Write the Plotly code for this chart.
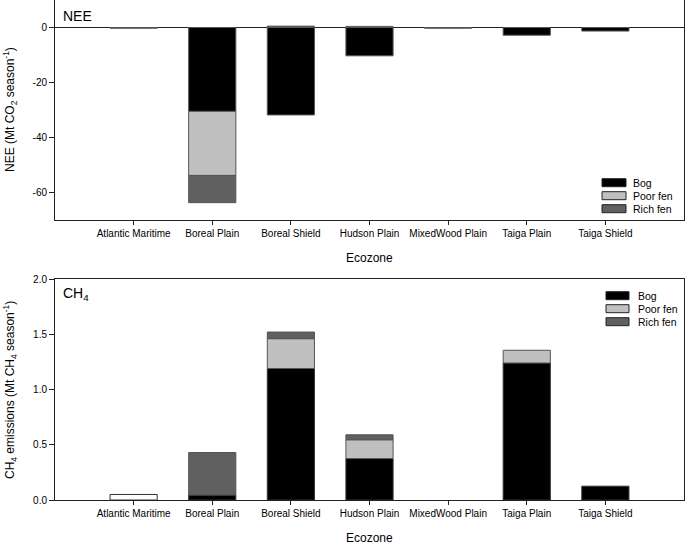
import plotly.graph_objects as go

ecozones = ["Atlantic Maritime", "Boreal Plain", "Boreal Shield", "Hudson Plain",
            "MixedWood Plain", "Taiga Plain", "Taiga Shield"]

# NEE (Mt CO2 season-1); None = no bar
nee_bog = [-0.25, -30.5, -31.8, -10.3, -0.25, -2.8, -1.3]
nee_poor = [None, -23.3, None, None, None, None, None]
nee_rich = [None, -9.9, 0.5, 0.4, None, None, None]

# CH4 (Mt CH4 season-1); None = no bar
ch4_bog = [0.05, 0.045, 1.19, 0.375, None, 1.24, 0.125]
ch4_poor = [None, None, 0.27, 0.17, None, 0.115, None]
ch4_rich = [None, 0.385, 0.06, 0.045, None, None, None]

nee_ticks = [0, -20, -40, -60]
nee_ticktext = ["0", "-20", "-40", "-60"]
ch4_ticks = [0, 0.5, 1.0, 1.5, 2.0]
ch4_ticktext = ["0.0", "0.5", "1.0", "1.5", "2.0"]

series_names = ["Bog", "Poor fen", "Rich fen"]
colors = ["#000000", "#c0c0c0", "#606060"]
outline = "#555555"
FONT = "Arial, Liberation Sans, sans-serif"

fig = go.Figure()
for name, vals, col in zip(series_names, [nee_bog, nee_poor, nee_rich], colors):
    fig.add_trace(go.Bar(x=ecozones, y=vals, name=name, width=0.6, showlegend=False,
                         marker=dict(color=col, line=dict(color=outline, width=1)),
                         xaxis="x", yaxis="y"))
ch4_bog_colors = ["#ffffff"] + ["#000000"] * (len(ecozones) - 1)
for name, vals, col in zip(series_names, [ch4_bog, ch4_poor, ch4_rich],
                           [ch4_bog_colors, colors[1], colors[2]]):
    fig.add_trace(go.Bar(x=ecozones, y=vals, name=name, width=0.6, showlegend=False,
                         marker=dict(color=col, line=dict(color=outline if name != "Bog" else "#333333", width=1)),
                         xaxis="x2", yaxis="y2"))

W, H = 685, 546
L, R, T, B = 55, 1, 0, 46
PW, PH = W - L - R, H - T - B

def px(x):
    return (x - L) / PW

def py(y):
    return (PH - (y - T)) / PH

axis_common = dict(showline=True, linecolor="#222222", linewidth=1, mirror=True,
                   ticks="outside", tickcolor="#222222", showgrid=False, automargin=False,
                   tickfont=dict(family=FONT, size=10, color="#000000"))

fig.update_layout(
    template="none",
    width=W, height=H, barmode="relative", bargap=0.4,
    paper_bgcolor="white", plot_bgcolor="white",
    margin=dict(l=L, r=R, t=T, b=B, pad=0, autoexpand=False),
    font=dict(family=FONT, color="#000000", size=10),
    xaxis=dict(domain=[0, 1], anchor="y", range=[-1, 7], ticklen=4, **axis_common),
    yaxis=dict(domain=[0.56, 1.0], anchor="x", range=[-70, 10], tickvals=nee_ticks,
               ticktext=nee_ticktext, ticklen=5, zeroline=True, zerolinecolor="#222222",
               zerolinewidth=1, **axis_common),
    xaxis2=dict(domain=[0, 1], anchor="y2", range=[-1, 7], ticklen=4, **axis_common),
    yaxis2=dict(domain=[0, 0.442], anchor="x2", range=[0, 2], tickvals=ch4_ticks,
                ticktext=ch4_ticktext, ticklen=5, zeroline=False, **axis_common),
)

annotations = [
    dict(text="NEE", x=px(61), y=py(16), xanchor="left", yanchor="middle",
         font=dict(family=FONT, size=14)),
    dict(text="CH<sub>4</sub>", x=px(61), y=py(294), xanchor="left", yanchor="middle",
         font=dict(family=FONT, size=14)),
    dict(text="NEE (Mt CO<sub>2</sub> season<sup>-1</sup>)", x=px(10), y=py(110),
         textangle=-90, xanchor="center", yanchor="middle", font=dict(family=FONT, size=12)),
    dict(text="CH<sub>4</sub> emissions (Mt CH<sub>4</sub> season<sup>-1</sup>)", x=px(10),
         y=py(390), textangle=-90, xanchor="center", yanchor="middle",
         font=dict(family=FONT, size=12)),
    dict(text="Ecozone", x=px(369), y=py(258), xanchor="center", yanchor="middle",
         font=dict(family=FONT, size=12)),
    dict(text="Ecozone", x=px(369), y=py(538), xanchor="center", yanchor="middle",
         font=dict(family=FONT, size=12)),
]

shapes = []
legends = [(602, 626, 631, [182.7, 195.7, 208.7]), (606, 629, 635.5, [295.7, 308.7, 321.7])]
for x0, x1, tx, rows in legends:
    for name, col, yc in zip(series_names, colors, rows):
        shapes.append(dict(type="rect", xref="paper", yref="paper",
                           x0=px(x0), x1=px(x1), y0=py(yc + 4), y1=py(yc - 4),
                           fillcolor=col, line=dict(color="#222222", width=1)))
        annotations.append(dict(text=name, x=px(tx), y=py(yc), xanchor="left",
                                yanchor="middle", font=dict(family=FONT, size=10.5)))

for a in annotations:
    a.update(xref="paper", yref="paper", showarrow=False)
fig.update_layout(annotations=annotations, shapes=shapes)

fig.write_html("out.html", config={"displayModeBar": False},
               post_script="document.body.style.margin='0';document.body.style.overflow='hidden';")
